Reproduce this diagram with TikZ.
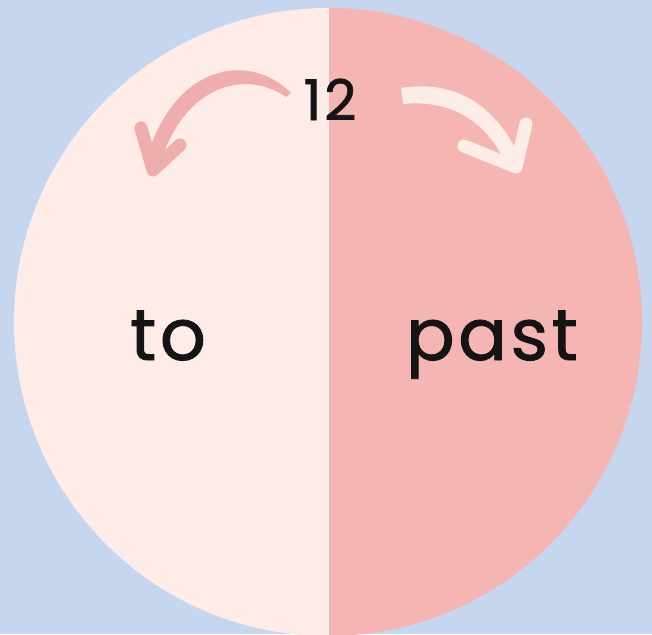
\documentclass[tikz,border=0pt]{standalone}
\usepackage{fontspec}
\setmainfont{Poppins}
\newfontfamily\handfont{Poppins}[FakeBold=1.2, LetterSpace=5]
\definecolor{bgblue}{HTML}{C5D6EE}
\definecolor{lefthalf}{HTML}{FDECE7}
\definecolor{righthalf}{HTML}{F4B5B3}
\definecolor{leftarrow}{HTML}{EFADAD}
\definecolor{rightarrow}{HTML}{FCEDE8}
\definecolor{ink}{HTML}{141414}
\tikzset{
  lbl/.style={font=\handfont\fontsize{72}{72}\selectfont, text=ink, anchor=base, inner sep=0pt},
  numlbl/.style={font=\handfont\fontsize{56}{56}\selectfont, text=ink, anchor=base, inner sep=0pt},
  chevron/.style={line width=13pt, line cap=round, line join=round}
}
\begin{document}
\begin{tikzpicture}[x=1pt,y=-1pt]
\useasboundingbox (0,0) rectangle (652,634);
\fill[bgblue] (0,0) rectangle (652,634);
\begin{scope}
  \clip (328,322) circle (314);
  \fill[lefthalf] (0,0) rectangle (329,640);
  \fill[righthalf] (329,0) rectangle (652,640);
\end{scope}
% left arrow (pink)
\fill[leftarrow] (291,93) .. controls (250,52) and (175,62) .. (146,160)
  -- (160,164) .. controls (185,82) and (248,70) .. (286,97) -- cycle;
\draw[leftarrow, chevron] (141,128) -- (153,170) -- (180,145);
% right arrow (pale)
\fill[rightarrow] (401,88) .. controls (450,80) and (495,100) .. (522,162)
  -- (508,168) .. controls (485,115) and (445,100) .. (403,104) -- cycle;
\draw[rightarrow, chevron] (464,146) -- (516,167) -- (526,124);
% labels
\node[numlbl] (twelve) at (330,120) {12};
\node[lbl] (to) at (168,360) {to};
\node[lbl] (past) at (492,360) {past};
\end{tikzpicture}
\end{document}
